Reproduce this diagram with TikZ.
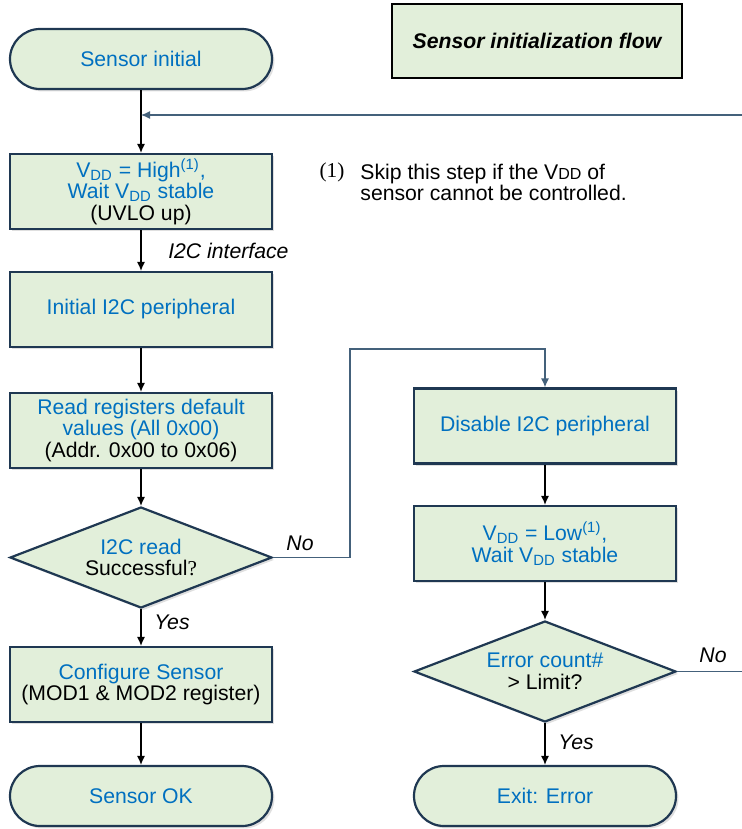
\documentclass[tikz,border=0pt]{standalone}
\usepackage{fontspec}
\setmainfont{Liberation Sans}
\newfontfamily\timesfont{Liberation Serif}
\usetikzlibrary{shapes.geometric,arrows.meta,shadows}

\definecolor{boxfill}{RGB}{226,239,218}
\definecolor{boxline}{RGB}{31,56,82}
\definecolor{txtblue}{RGB}{0,112,192}
\definecolor{loopline}{RGB}{68,97,123}

\newcommand{\vdd}{V\textsubscript{DD}}

\tikzset{
  base/.style={draw=boxline,fill=boxfill,line width=1.1pt,text=txtblue,align=center,
    font=\fontsize{10.6}{10.8}\selectfont,minimum width=131pt,inner sep=0pt,
    drop shadow={shadow xshift=1.2pt,shadow yshift=-1.2pt,opacity=0.25}},
  terminal/.style={base,rounded corners=15pt,minimum height=30pt},
  process/.style={base,minimum height=37.5pt},
  decision/.style={base,diamond,aspect=2.6,minimum height=50.5pt},
  flowlabel/.style={font=\fontsize{10.6}{12}\selectfont\itshape},
}

\begin{document}
\begin{tikzpicture}[x=0.5pt,y=-0.5pt,>={Latex[length=4.5pt,width=4pt]}]
    \useasboundingbox (0,0) rectangle (742,829);

    % left column
    \node [terminal] (start) at (141,59) {Sensor initial};
    \node [process] (vddhigh) at (141,191.5) {\vdd{} = High\textsuperscript{(1)},\\Wait \vdd{} stable\\\textcolor{black}{(UVLO up)}};
    \node [process] (initi2c) at (141,309.5) {Initial I2C peripheral};
    \node [process] (readreg) at (141,430.5) {Read registers default\\values (All 0x00)\\\textcolor{black}{(Addr. 0x00 to 0x06)}};
    \node [decision] (readok) at (141,557.5) {I2C read\\\textcolor{black}{Successful{\timesfont ?}}};
    \node [process] (config) at (141,684.5) {Configure Sensor\\\textcolor{black}{(MOD1 \& MOD2 register)}};
    \node [terminal] (sensorok) at (141,796) {Sensor OK};

    % right column
    \node [process] (disi2c) at (545,426) {Disable I2C peripheral};
    \node [process] (vddlow) at (545,543.5) {\vdd{} = Low\textsuperscript{(1)},\\Wait \vdd{} stable};
    \node [decision] (errcnt) at (545,671.5) {Error count\#\\\textcolor{black}{> Limit?}};
    \node [terminal] (exiterr) at (545,796) {Exit: Error};

    % title and note
    \node [draw=black,fill=boxfill,line width=1.3pt,minimum width=145pt,minimum height=37pt,
        font=\fontsize{10.6}{12}\selectfont\bfseries\itshape] (title) at (537,41) {Sensor initialization flow};
    \node [font=\fontsize{10.6}{12}\timesfont] (notenum) at (332,172) {(1)};
    \node [anchor=north west,align=left,inner sep=0pt,font=\fontsize{10.6}{10.2}\selectfont] (note) at (360,164)
        {Skip this step if the V{\fontsize{8}{8}\selectfont DD} of\\sensor cannot be controlled.};

    % connectors
    \coordinate (loopin) at (742,115);
    \coordinate (loopout) at (742,671.5);
    \coordinate (nobend) at (350,349);

    \draw [->,line width=0.6pt] (start) -- (vddhigh);
    \draw [->,line width=0.6pt] (vddhigh) -- (initi2c) node[flowlabel,midway,right=10pt] {I2C interface};
    \draw [->,line width=0.6pt] (initi2c) -- (readreg);
    \draw [->,line width=0.6pt] (readreg) -- (readok);
    \draw [->,line width=0.6pt] (readok) -- (config) node[flowlabel,pos=0.35,right=3pt] {Yes};
    \draw [->,line width=0.6pt] (config) -- (sensorok);

    \draw [->,line width=0.6pt] (disi2c) -- (vddlow);
    \draw [->,line width=0.6pt] (vddlow) -- (errcnt);
    \draw [->,line width=0.6pt] (errcnt) -- (exiterr) node[flowlabel,pos=0.45,right=3pt] {Yes};

    \draw [->,loopline,line width=0.6pt] (readok.east) -| (nobend) -| (disi2c.north);
    \node [flowlabel] (nolbl) at (300,543) {No};
    \draw [loopline,line width=0.6pt] (errcnt.east) -- (loopout);
    \node [flowlabel] (nolbl2) at (713,655) {No};
    \draw [->,loopline,line width=0.6pt] (loopin) -- (start.south |- loopin);
\end{tikzpicture}
\end{document}
